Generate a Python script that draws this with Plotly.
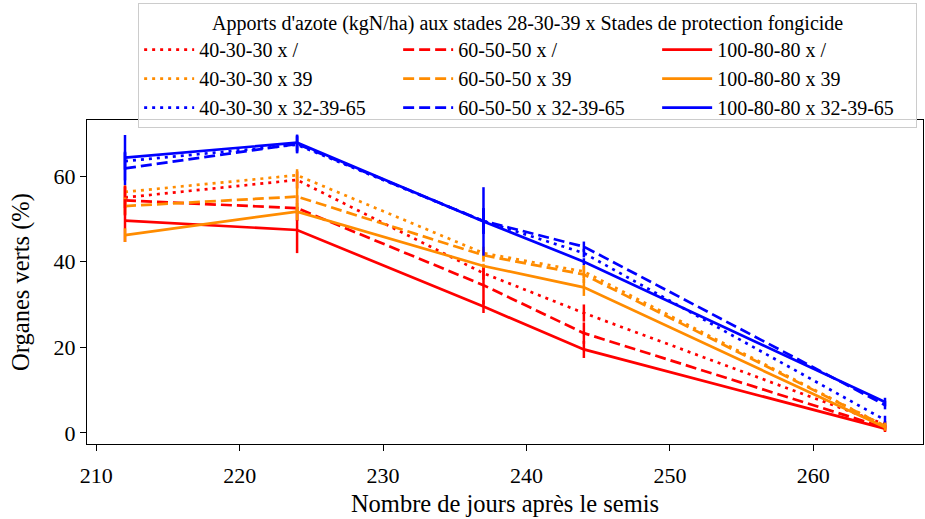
import plotly.graph_objects as go

# ---- data ----
days = [212, 224, 237, 244, 265]

names = [
    "40-30-30 x /", "40-30-30 x 39", "40-30-30 x 32-39-65",
    "60-50-50 x /", "60-50-50 x 39", "60-50-50 x 32-39-65",
    "100-80-80 x /", "100-80-80 x 39", "100-80-80 x 32-39-65",
]

v_40_none = [55.0, 59.1, 37.3, 28.0, 2.0]
v_40_39 = [56.3, 60.2, 42.0, 37.7, 1.6]
v_40_full = [63.5, 67.3, 49.5, 42.0, 3.0]
v_60_none = [54.3, 52.5, 34.5, 23.3, 1.2]
v_60_39 = [53.0, 55.2, 41.5, 37.0, 1.6]
v_60_full = [61.8, 67.5, 49.5, 43.5, 6.5]
v_100_none = [49.6, 47.4, 29.5, 19.5, 1.0]
v_100_39 = [46.2, 51.7, 39.0, 34.0, 1.3]
v_100_full = [64.3, 67.8, 49.4, 40.0, 7.2]

e_40_none = [2.5, 2.0, 1.5, 2.0, 0.8]
e_40_39 = [1.5, 1.4, 1.5, 1.5, 0.8]
e_40_full = [2.0, 2.0, 3.0, 1.0, 1.0]
e_60_none = [3.5, 3.0, 4.5, 2.5, 0.8]
e_60_39 = [2.0, 4.0, 1.5, 2.0, 0.8]
e_60_full = [3.9, 2.0, 3.0, 1.2, 1.0]
e_100_none = [5.0, 5.4, 1.5, 2.0, 0.8]
e_100_39 = [1.6, 2.0, 0.5, 2.0, 0.8]
e_100_full = [5.3, 1.9, 8.0, 0.8, 1.0]

values = [v_40_none, v_40_39, v_40_full, v_60_none, v_60_39, v_60_full,
          v_100_none, v_100_39, v_100_full]
errors = [e_40_none, e_40_39, e_40_full, e_60_none, e_60_39, e_60_full,
          e_100_none, e_100_39, e_100_full]

# ---- styles ----
colors = ["red", "darkorange", "blue"] * 3
dashes = ["3px,5px"] * 3 + ["11px,5px"] * 3 + ["solid"] * 3
# legend is laid out row-wise: rows = protection, columns = nitrogen level
ranks = [1, 4, 7, 2, 5, 8, 3, 6, 9]

FONT = "Liberation Serif, Times New Roman, serif"

fig = go.Figure()
for name, y, err, c, d, r in zip(names, values, errors, colors, dashes, ranks):
    fig.add_trace(go.Scatter(
        x=days, y=y, name=name, mode="lines",
        line=dict(color=c, width=2.7, dash=d),
        error_y=dict(type="data", array=err, visible=True, color=c,
                     thickness=2.5, width=0),
        legendrank=r,
    ))

xmin, xmax = min(days), max(days)
pad = 0.05 * (xmax - xmin)

fig.update_layout(
    width=925, height=519,
    margin=dict(l=87, r=2, t=120, b=75, autoexpand=False),
    paper_bgcolor="white", plot_bgcolor="white",
    font=dict(family=FONT, color="black"),
    showlegend=True,
    legend=dict(
        orientation="h",
        x=0.993, xanchor="right", y=1.361, yanchor="top",
        bgcolor="rgba(255,255,255,0.8)", bordercolor="#cccccc", borderwidth=1,
        font=dict(family=FONT, size=20, color="black"),
        title=dict(text="Apports d'azote (kgN/ha) aux stades 28-30-39 x Stades de protection fongicide",
                   side="top center", font=dict(family=FONT, size=20)),
        itemwidth=50, entrywidth=194, entrywidthmode="pixels",
    ),
    xaxis=dict(
        range=[xmin - pad, xmax + pad],
        tickmode="array", tickvals=[210, 220, 230, 240, 250, 260],
        ticks="outside", ticklen=6, tickwidth=1.3, tickcolor="black",
        showline=True, linecolor="black", linewidth=1.3, mirror=True,
        showgrid=False, zeroline=False,
        tickfont=dict(size=22), ticklabelstandoff=5,
        title=dict(text="Nombre de jours après le semis", font=dict(size=24.5), standoff=8),
    ),
    yaxis=dict(
        range=[-2.6, 73.1],
        tickmode="array", tickvals=[0, 20, 40, 60],
        ticks="outside", ticklen=6, tickwidth=1.3, tickcolor="black",
        showline=True, linecolor="black", linewidth=1.3, mirror=True,
        showgrid=False, zeroline=False,
        tickfont=dict(size=22),
        title=dict(text="Organes verts (%)", font=dict(size=24.5), standoff=16),
    ),
)

fig.write_html("out.html", config={"displayModeBar": False},
               post_script="document.body.style.margin='0px';")
